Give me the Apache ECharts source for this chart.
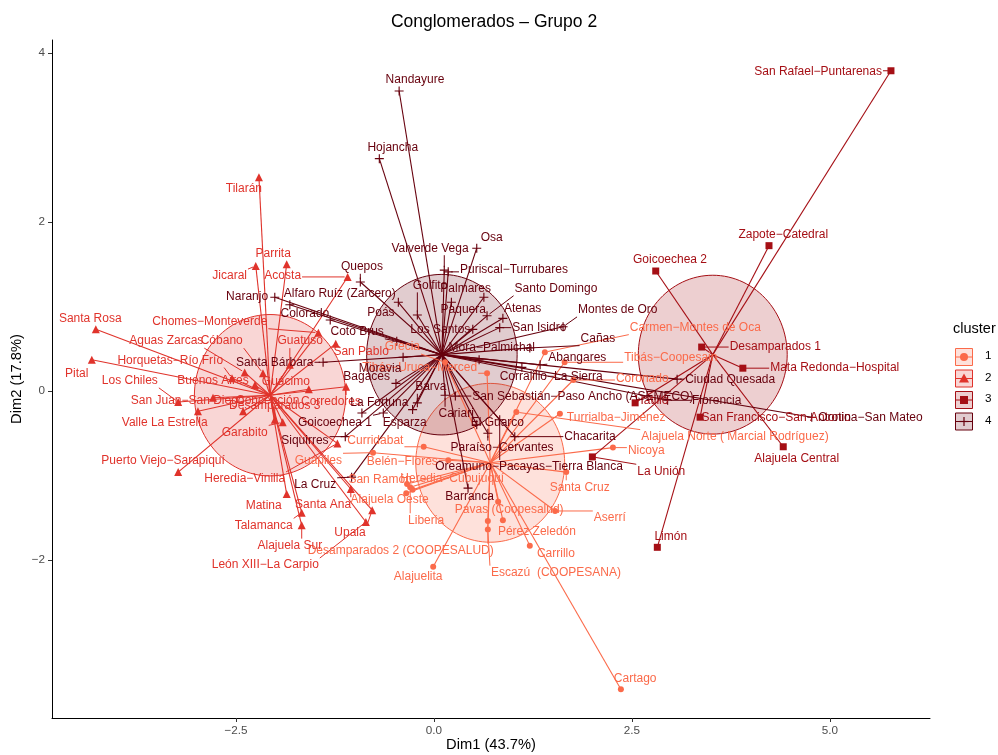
<!DOCTYPE html>
<html><head><meta charset="utf-8">
<script src="https://cdn.jsdelivr.net/npm/echarts@6/dist/echarts.min.js"></script>
<style>html,body{margin:0;padding:0;background:#fff}#c{width:998px;height:755px}</style>
</head><body><div id="c"></div>
<script>
// ---------- data ----------
const clusterIds = ['1','2','3','4'];
const colors = ['#FB6A4A','#E0332B','#A50F15','#67000D'];
const centerX = [0.71,-2.07,3.52,0.10];
const centerY = [-0.85,-0.05,0.43,0.43];
const radius = [0.94,0.955,0.94,0.95];

const names1 = ["Cartago","Alajuelita","Desamparados 2 (COOPESALUD)","Pavas (Coopesalud)","Escazú  (COOPESANA)","Pérez Zeledón","Carrillo","Aserrí","Santa Cruz","Nicoya","Alajuela Norte ( Marcial Rodríguez)","Turrialba−Jiménez","Coronado","Tibás−Coopesain","Carmen−Montes de Oca","Grecia","Tibás−Uruca−Merced","Curridabat","Guápiles","Belén−Flores","San Ramón","Heredia−Cubujuquí","Alajuela Oeste","Liberia"];
const x1 = [2.36,-0.01,0.68,0.81,0.68,0.87,1.21,1.53,1.67,2.26,1.04,1.59,1.76,1.65,1.40,0.14,0.67,-0.13,-0.77,0.18,-0.34,-0.27,-0.35,-0.30];
const y1 = [-3.53,-2.08,-1.54,-1.31,-1.64,-1.53,-1.83,-1.42,-0.96,-0.67,-0.25,-0.27,0.13,0.34,0.46,0.34,0.21,-0.66,-0.73,-0.82,-1.10,-1.17,-1.21,-1.14];
const lx1 = [2.54,-0.20,-0.42,0.95,1.54,1.30,1.54,2.22,1.84,2.68,3.80,2.30,2.63,2.99,3.30,-0.40,-0.18,-0.74,-1.46,-0.40,-0.68,0.23,-0.56,-0.10];
const ly1 = [-3.41,-2.20,-1.89,-1.41,-2.15,-1.67,-1.92,-1.50,-1.14,-0.71,-0.54,-0.31,0.15,0.39,0.75,0.52,0.27,-0.59,-0.82,-0.84,-1.05,-1.04,-1.29,-1.53];

const names2 = ["Santa Rosa","Pital","Tilarán","Parrita","Jicaral","Acosta","San Pablo","Puerto Viejo−Sarapiquí","Valle La Estrella","Los Chiles","San Juan−San Diego","Buenos Aires","Horquetas−Río Frío","Aguas Zarcas","Cóbano","Chomes−Monteverde","Guatuso","Guácimo","Corredores","Concepción","Desamparados 3","Garabito","Heredia−Vinilla","Matina","Santa Ana","Talamanca","Alajuela Sur","Upala","León XIII−La Carpio"];
const x2 = [-4.27,-4.32,-2.21,-1.86,-2.25,-1.09,-1.24,-3.23,-2.98,-3.23,-2.79,-2.26,-2.55,-2.39,-2.16,-1.46,-1.82,-1.58,-1.11,-2.01,-2.41,-1.91,-1.22,-1.86,-1.05,-1.67,-1.67,-0.78,-0.86];
const y2 = [0.73,0.37,2.53,1.50,1.48,1.35,0.56,-0.96,-0.24,-0.13,-0.08,0.07,0.15,0.22,0.21,0.69,0.31,0.02,0.05,-0.34,-0.24,-0.37,-0.62,-1.22,-1.16,-1.44,-1.59,-1.41,-1.55];
const lx2 = [-4.34,-4.51,-2.40,-2.03,-2.58,-1.91,-0.92,-3.42,-3.40,-3.84,-3.11,-2.79,-3.33,-3.38,-2.68,-2.83,-1.69,-1.87,-1.30,-2.10,-2.01,-2.39,-2.39,-2.15,-1.40,-2.15,-1.82,-1.06,-2.13];
const ly2 = [0.85,0.21,2.39,1.63,1.36,1.36,0.46,-0.83,-0.38,0.12,-0.12,0.12,0.36,0.59,0.59,0.82,0.59,0.11,-0.13,-0.11,-0.17,-0.49,-1.04,-1.36,-1.34,-1.59,-1.83,-1.68,-2.06];

const names3 = ["San Rafael−Puntarenas","Zapote−Catedral","Goicoechea 2","Desamparados 1","Mata Redonda−Hospital","San Francisco−San Antonio","Alajuela Central","Limón","La Unión","Hatillo"];
const x3 = [5.77,4.23,2.80,3.38,3.90,3.36,4.41,2.82,2.00,2.54];
const y3 = [3.79,1.72,1.42,0.52,0.27,-0.31,-0.66,-1.85,-0.78,-0.14];
const lx3 = [4.85,4.41,2.98,4.31,5.06,4.32,4.58,2.99,2.87,2.75];
const ly3 = [3.78,1.85,1.55,0.52,0.28,-0.32,-0.80,-1.73,-0.95,-0.11];

const names4 = ["Nandayure","Hojancha","Osa","Valverde Vega","Puriscal−Turrubares","Quepos","Golfito","Palmares","Santo Domingo","Paquera","Atenas","San Isidro","Los Santos","Poás","Coto Brus","Moravia","Mora−Palmichal","Bagaces","Barva","La Fortuna","Goicoechea 1","Esparza","Cariari","San Sebastián−Paso Ancho (ASEMECO)","Corralillo−La Sierra","Abangares","Cañas","Montes de Oro","Ciudad Quesada","Florencia","Orotina−San Mateo","Chacarita","Paraíso−Cervantes","El Guarco","Oreamuno−Pacayas−Tierra Blanca","Barranca","La Cruz","Siquirres","Santa Bárbara","Colorado","Naranjo","Alfaro Ruíz (Zarcero)"];
const x4 = [-0.44,-0.69,0.54,0.13,0.18,-0.93,-0.21,0.63,0.67,0.22,0.87,0.83,0.49,-0.45,-0.47,-0.39,0.57,-0.48,-0.21,-0.91,-0.64,-0.27,0.14,0.27,1.11,1.34,1.21,1.63,3.07,2.95,4.77,1.02,0.68,0.54,0.83,0.43,-1.04,-1.12,-1.40,-1.31,-2.01,-1.82];
const y4 = [3.55,2.75,1.69,1.43,1.41,1.29,0.90,1.11,0.89,1.05,0.86,0.75,0.73,1.05,0.59,0.40,0.37,0.09,-0.14,-0.26,-0.26,-0.22,-0.05,-0.06,0.28,0.31,0.51,0.76,0.14,-0.11,-0.31,-0.54,-0.50,-0.40,-0.34,-1.15,-1.02,-0.54,0.34,0.84,1.11,1.02];
const lx4 = [-0.24,-0.52,0.73,-0.05,1.01,-0.91,-0.05,0.40,1.54,0.37,1.12,1.33,0.08,-0.67,-0.97,-0.68,0.73,-0.85,-0.04,-0.69,-1.25,-0.37,0.28,1.88,1.48,1.81,2.07,2.32,3.74,3.57,5.51,1.97,0.86,0.80,1.20,0.45,-1.50,-1.63,-2.01,-1.63,-2.36,-1.19];
const ly4 = [3.69,2.88,1.82,1.69,1.43,1.47,1.25,1.21,1.21,0.96,0.97,0.75,0.72,0.93,0.70,0.26,0.51,0.17,0.05,-0.14,-0.37,-0.37,-0.27,-0.07,0.17,0.40,0.62,0.96,0.13,-0.11,-0.32,-0.54,-0.67,-0.38,-0.90,-1.25,-1.11,-0.59,0.34,0.92,1.12,1.15];

const xTicks = [-2.5,0,2.5,5];
const yTicks = [-2,0,2,4];

// ---------- build ----------
const groups = [
  {n:names1,x:x1,y:y1,lx:lx1,ly:ly1},
  {n:names2,x:x2,y:y2,lx:lx2,ly:ly2},
  {n:names3,x:x3,y:y3,lx:lx3,ly:ly3},
  {n:names4,x:x4,y:y4,lx:lx4,ly:ly4}
];
function rgba(hex,a){const r=parseInt(hex.slice(1,3),16),g=parseInt(hex.slice(3,5),16),b=parseInt(hex.slice(5,7),16);return `rgba(${r},${g},${b},${a})`;}
const FONT = '"Liberation Sans", Arial, Helvetica, sans-serif';
const PLUS = 'path://M3.5,0H4.5V3.5H8V4.5H4.5V8H3.5V4.5H0V3.5H3.5Z';
const symbols = ['circle','triangle','rect',PLUS];
const symSizes = [6,8,7,9];
const ctx = document.createElement('canvas').getContext('2d');
ctx.font = '12px ' + FONT;

const series = [];
series.push({
  type:'custom', z:1, clip:true,
  data: clusterIds.map((c,k)=>[centerX[k],centerY[k],radius[k],k]),
  renderItem:(params,api)=>{
    const cx=api.value(0), cy=api.value(1), r=api.value(2), k=api.value(3);
    const pts=[];
    for(let i=0;i<=120;i++){const t=i/120*Math.PI*2;pts.push(api.coord([cx+r*Math.cos(t),cy+r*Math.sin(t)]));}
    return {type:'polygon',shape:{points:pts},style:{fill:rgba(colors[k],0.2),stroke:colors[k],lineWidth:1}};
  }
});
const starData=[];
groups.forEach((g,k)=>g.x.forEach((v,i)=>starData.push([v,g.y[i],centerX[k],centerY[k],k])));
series.push({
  type:'custom', z:2, clip:true, data:starData,
  renderItem:(params,api)=>{
    const p=api.coord([api.value(0),api.value(1)]), c=api.coord([api.value(2),api.value(3)]);
    return {type:'line',shape:{x1:c[0],y1:c[1],x2:p[0],y2:p[1]},style:{stroke:colors[api.value(4)],lineWidth:1.1}};
  }
});
groups.forEach((g,k)=>{
  series.push({type:'scatter', z:3, name:clusterIds[k], symbol:symbols[k], symbolSize:symSizes[k],
    itemStyle:{color:colors[k],opacity:1}, data:g.x.map((v,i)=>[v,g.y[i]]), silent:true});
});
const labData=[];
groups.forEach((g,k)=>g.x.forEach((v,i)=>labData.push([v,g.y[i],g.lx[i],g.ly[i],k,i])));
series.push({
  type:'custom', z:4, clip:false, data:labData,
  renderItem:(params,api)=>{
    const k=api.value(4), i=api.value(5);
    const txt=groups[k].n[i];
    const p=api.coord([api.value(0),api.value(1)]), l=api.coord([api.value(2),api.value(3)]);
    const w=ctx.measureText(txt).width, h=12;
    const children=[];
    const x0=l[0]-w/2-1, x1b=l[0]+w/2+1, y0=l[1]-h/2-1, y1b=l[1]+h/2+1;
    const nx=Math.min(Math.max(p[0],x0),x1b), ny=Math.min(Math.max(p[1],y0),y1b);
    const d=Math.hypot(nx-p[0],ny-p[1]);
    if(d>7){
      const ux=(nx-p[0])/d, uy=(ny-p[1])/d;
      children.push({type:'line',shape:{x1:p[0]+ux*3,y1:p[1]+uy*3,x2:nx,y2:ny},style:{stroke:colors[k],lineWidth:1}});
    }
    children.push({type:'text',x:l[0],y:l[1],style:{text:txt,fill:colors[k],font:'12px '+FONT,align:'center',verticalAlign:'middle'}});
    return {type:'group',children};
  }
});

const legendEls=[{type:'text',x:953,y:321,style:{text:'cluster',font:'14.5px '+FONT,fill:'#000'}}];
const symPaths=[
  (cx,cy,c)=>({type:'circle',shape:{cx,cy,r:4},style:{fill:c}}),
  (cx,cy,c)=>({type:'polygon',shape:{points:[[cx,cy-5],[cx+5,cy+4],[cx-5,cy+4]]},style:{fill:c}}),
  (cx,cy,c)=>({type:'rect',shape:{x:cx-4,y:cy-4,width:8,height:8},style:{fill:c}}),
  (cx,cy,c)=>({type:'group',children:[{type:'line',shape:{x1:cx-4.5,y1:cy,x2:cx+4.5,y2:cy},style:{stroke:c,lineWidth:1.2}},{type:'line',shape:{x1:cx,y1:cy-4.5,x2:cx,y2:cy+4.5},style:{stroke:c,lineWidth:1.2}}]})
];
clusterIds.forEach((c,k)=>{
  const cy=357+21.5*k, cx=964;
  legendEls.push({type:'rect',shape:{x:cx-8.5,y:cy-8.5,width:17,height:17},style:{fill:rgba(colors[k],0.2),stroke:colors[k],lineWidth:1}});
  legendEls.push({type:'line',shape:{x1:cx-8.5,y1:cy,x2:cx+8.5,y2:cy},style:{stroke:colors[k],lineWidth:1}});
  legendEls.push(symPaths[k](cx,cy,colors[k]));
  legendEls.push({type:'text',x:985,y:cy-7,style:{text:c,font:'11.7px '+FONT,fill:'#000'}});
});
legendEls.push({type:'text',x:494,y:13,style:{text:'Conglomerados – Grupo 2',font:'17.5px '+FONT,fill:'#000',align:'center'}});

const fmt = v => (v<0?'−':'') + Math.abs(v);
const option = {
  animation:false,
  backgroundColor:'#fff',
  grid:{left:52,right:68,top:40,bottom:37,containLabel:false,outerBoundsMode:'none'},
  xAxis:{type:'value',min:-4.823,max:6.263,
    name:'Dim1 (43.7%)',nameLocation:'middle',nameGap:19,nameMoveOverlap:false,
    nameTextStyle:{fontFamily:FONT,fontSize:14.7,color:'#000',verticalAlign:'top'},
    splitLine:{show:false},
    axisLine:{onZero:false,lineStyle:{color:'#000',width:1}},
    axisTick:{customValues:xTicks,length:4,lineStyle:{color:'#333'}},
    axisLabel:{customValues:xTicks,margin:7,fontFamily:FONT,fontSize:11.7,color:'#4D4D4D',
      formatter:v=>{const s=Math.abs(v).toFixed(1);return (v<0?'−':'')+s;}}
  },
  yAxis:{type:'value',min:-3.870,max:4.154,
    name:'Dim2 (17.8%)',nameLocation:'middle',nameGap:28,nameRotate:90,nameMoveOverlap:false,
    nameTextStyle:{fontFamily:FONT,fontSize:14.7,color:'#000'},
    splitLine:{show:false},
    axisLine:{onZero:false,lineStyle:{color:'#000',width:1}},
    axisTick:{customValues:yTicks,length:4,lineStyle:{color:'#333'}},
    axisLabel:{customValues:yTicks,margin:7,fontFamily:FONT,fontSize:11.7,color:'#4D4D4D',formatter:fmt}
  },
  graphic:legendEls,
  series
};
const chart = echarts.init(document.getElementById('c'),null,{renderer:'canvas'});
chart.setOption(option);
</script></body></html>
